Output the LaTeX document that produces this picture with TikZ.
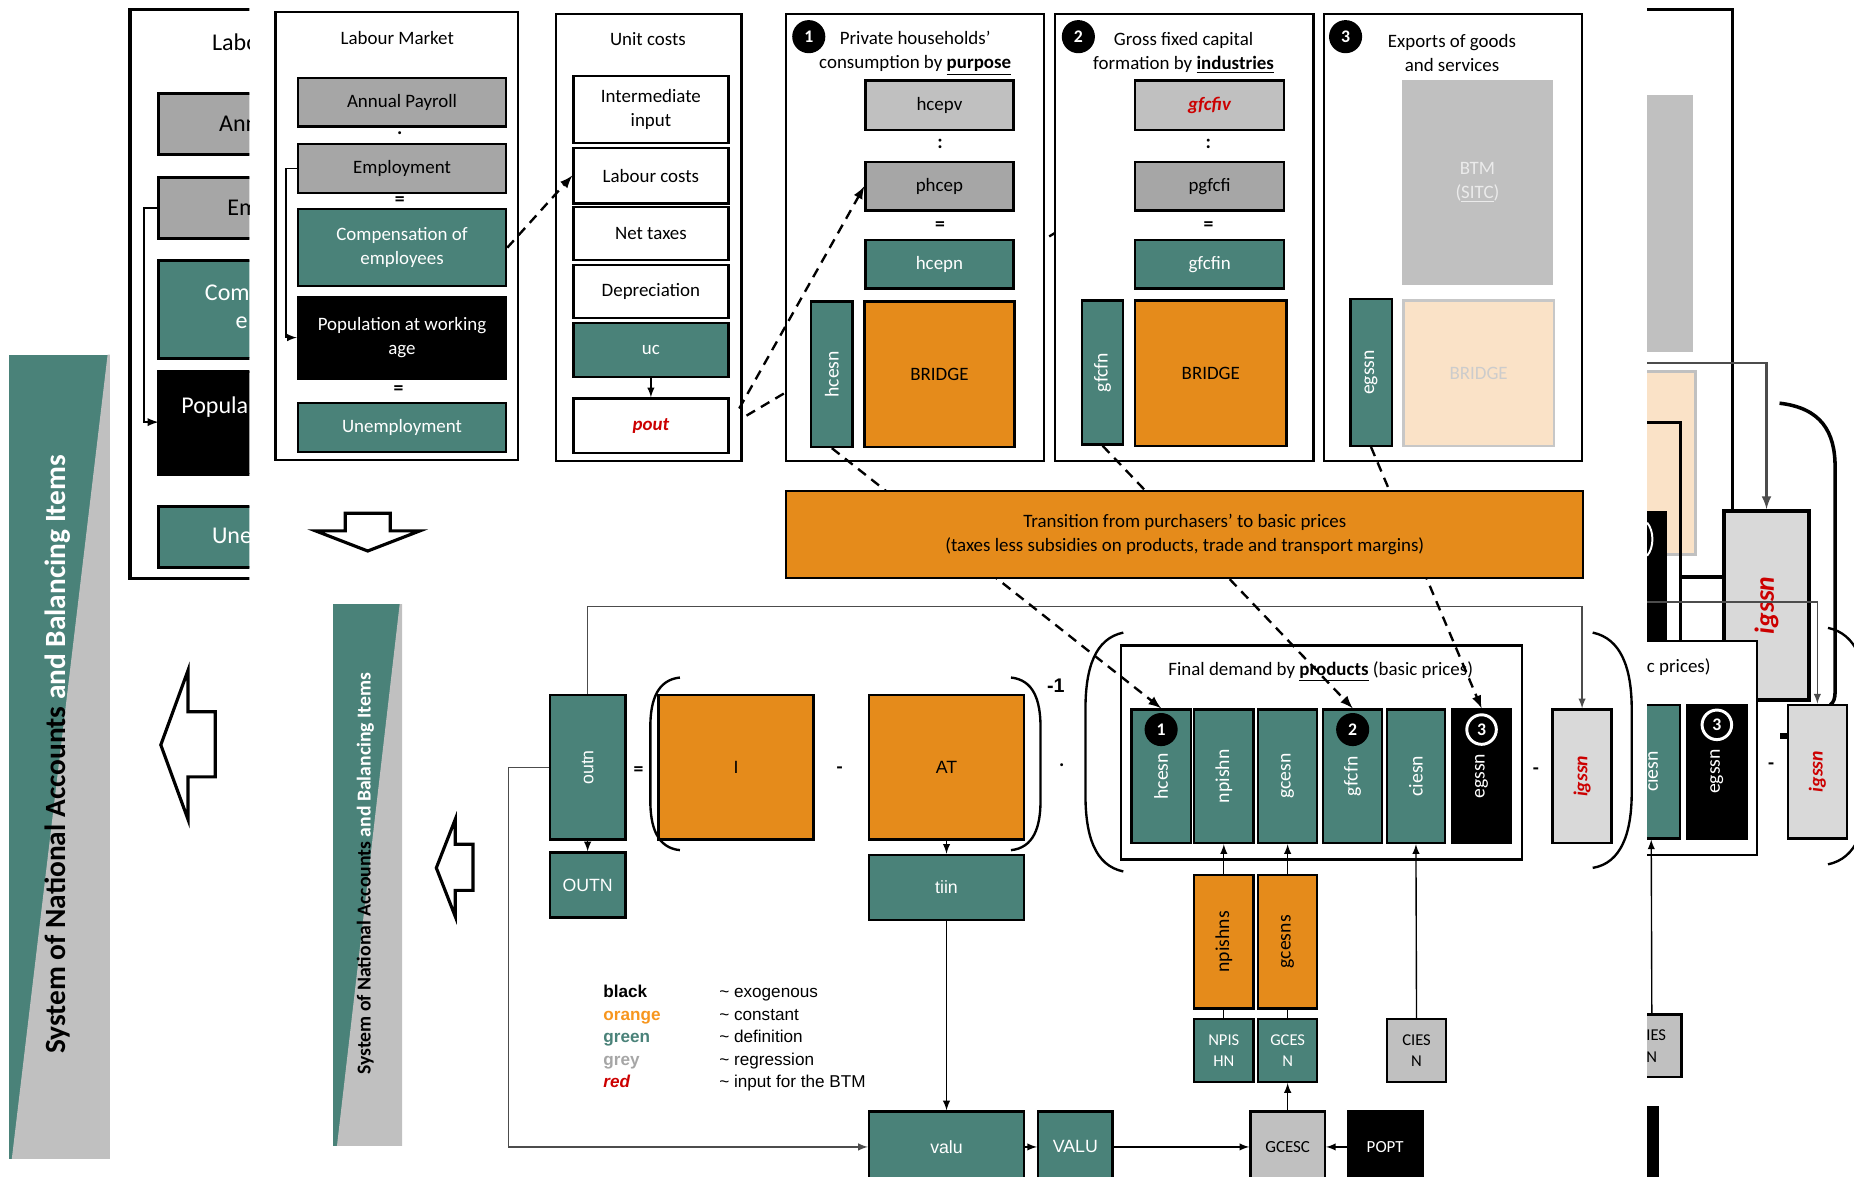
\documentclass[tikz,border=0pt]{standalone}
\usepackage{fontspec}
\setmainfont{Carlito}
\newfontfamily\arialfont{Liberation Sans}
\usepackage{graphicx}
\usepackage{tikz}
\usetikzlibrary{arrows,calc,backgrounds}

\definecolor{sgreen}{RGB}{74,130,121}
\definecolor{sorange}{RGB}{229,139,27}
\definecolor{sgrey}{RGB}{166,166,166}
\definecolor{slight}{RGB}{192,192,192}
\definecolor{spale}{RGB}{217,217,217}
\definecolor{speach}{RGB}{250,226,199}
\definecolor{sred}{RGB}{204,0,0}
\definecolor{lorange}{RGB}{247,150,30}

\newcommand{\bw}{1.2pt}

\begin{document}
\begin{tikzpicture}
	% Styles
	[
	x=0.6pt, y=-0.6pt, >=latex,
	panel/.style 2 args={draw, line width=\bw, fill=white, inner sep=0pt, minimum width={#1*0.6pt}, minimum height={#2*0.6pt}},
	box/.style 2 args={draw, line width=\bw, inner sep=0pt, align=center, minimum width={#1*0.6pt}, minimum height={#2*0.6pt}, font=\fontsize{9.6}{12}\selectfont},
	greybox/.style 2 args={box={#1}{#2}, fill=sgrey},
	lightbox/.style 2 args={box={#1}{#2}, fill=slight},
	greenbox/.style 2 args={box={#1}{#2}, fill=sgreen, text=white},
	blackbox/.style 2 args={box={#1}{#2}, fill=black, text=white},
	orangebox/.style 2 args={box={#1}{#2}, fill=sorange},
	whitebox/.style 2 args={box={#1}{#2}, fill=white},
	igbox/.style 2 args={box={#1}{#2}, fill=spale, text=sred, font=\fontsize{10}{12}\selectfont\bfseries\itshape},
	redtext/.style={text=sred, font=\fontsize{9.6}{12}\selectfont\bfseries\itshape},
	rot/.style={font=\fontsize{10}{12}\selectfont},
	arial/.style={font=\arialfont\fontsize{9}{11}\selectfont},
	txt/.style={inner sep=0pt, align=center, font=\fontsize{9.6}{12}\selectfont},
	bigtxt/.style={anchor=west, inner sep=0pt, font=\fontsize{12.2}{15}\selectfont},
	sign/.style={inner sep=0pt, font=\fontsize{10}{12}\selectfont\bfseries},
	numcirc/.style={circle, fill=black, text=white, inner sep=0pt, minimum size=16.8pt, font=\fontsize{9}{10}\selectfont\bfseries},
	conn/.style={->, line width=0.7pt},
	greyconn/.style={->, line width=0.7pt, draw=black!70},
	dasharrow/.style={->, line width=1.2pt, dash pattern=on 5pt off 3.5pt},
	bracket/.style={line width=1.2pt},
	blockarrow/.style={draw, fill=white, line width=1.6pt, line join=miter},
	banner/.style={rotate=90, inner sep=0pt, font=\bfseries},
	legend/.style={anchor=west, inner sep=0pt, text height=6.5pt, text depth=2pt, font=\arialfont\fontsize{8.7}{10}\selectfont},
	]

	\useasboundingbox (0,0) rectangle (1568,995);

	% Banners
	\fill[sgreen] (8,300) rectangle (93,980);
	\fill[slight] (91,300) -- (93,300) -- (93,980) -- (10,980) -- cycle;
	\node at (49,638) (bigsna) [banner, font=\fontsize{14.9}{17}\selectfont\bfseries] {System of National Accounts \textcolor{white}{and Balancing Items}};
	\fill[sgreen] (282,511) rectangle (340,969);
	\fill[slight] (338,511) -- (340,511) -- (340,969) -- (285,969) -- cycle;
	\node at (309,739) (smallsna) [banner, font=\fontsize{10}{12}\selectfont\bfseries] {System of National Accounts \textcolor{white}{and Balancing Items}};

	% Block arrows
	\draw[blockarrow] (136,630) -- (159,567) -- (159,602) -- (182,602) -- (182,657) -- (159,657) -- (159,693) -- cycle;
	\draw[blockarrow] (369,734) -- (385,693) -- (385,714) -- (400,714) -- (400,753) -- (385,753) -- (385,775) -- cycle;
	\draw[blockarrow] (292,434) -- (330,434) -- (330,449) -- (355,449) -- (311,466) -- (267,449) -- (292,449) -- cycle;

	% Earlier, enlarged labour market (cut off)
	\begin{scope}
		\clip (100,0) rectangle (211,495);
		\draw[line width=1.6pt] (110,8) rectangle (370,489);
		\node at (179,36) (oldtitle) [bigtxt] {Labo};
		\draw[line width=1.6pt, fill=sgrey] (134,79) rectangle (357,131);
		\node at (185,105) (oldpayroll) [bigtxt] {Ann};
		\draw[line width=1.6pt, fill=sgrey] (134,150) rectangle (357,202);
		\node at (192,176) (oldemploy) [bigtxt] {Em};
		\draw[line width=1.6pt, fill=sgreen] (134,220) rectangle (357,303);
		\node at (173,248) (oldcomp) [bigtxt, text=white] {Com};
		\node at (199,273) (oldcompb) [bigtxt, text=white] {e};
		\draw[line width=1.6pt, fill=black] (134,314) rectangle (357,401);
		\node at (153,344) (oldpopwa) [bigtxt, text=white] {Popula};
		\draw[line width=1.6pt, fill=sgreen] (134,428) rectangle (357,480);
		\node at (179,453) (oldunemp) [bigtxt, text=white] {Une};
		\coordinate (oldempw) at (134,176);
		\coordinate (oldpopw) at (134,357);
		\draw[conn, line width=0.9pt] (oldempw) -- ++(-12,0) |- (oldpopw);
	\end{scope}

	% Labour market
	\node at (335.5,199.5) (lmpanel) [panel={205}{379}] {};
	\node at (336,32) (lmtitle) [txt] {Labour Market};
	\node at (340,86.5) (payroll) [greybox={176}{41}] {Annual Payroll};
	\node at (338,113) (lmdot) [sign] {.};
	\node at (340,142.5) (employ) [greybox={176}{41}] {Employment};
	\node at (338,170) (lmeqa) [sign] {=};
	\node at (340,209.5) (comp) [greenbox={176}{65}] {Compensation of\\employees};
	\node at (340,285.5) (popwa) [blackbox={176}{69}] {Population at working\\age};
	\node at (337,330) (lmeqb) [sign] {=};
	\node at (340,361.5) (unemp) [greenbox={176}{41}] {Unemployment};
	\draw[conn] (employ.west) -- ++(-9,0) |- (popwa.west);

	% Unit costs
	\node at (548.5,201) (ucpanel) [panel={157}{378}] {};
	\node at (548,33) (uctitle) [txt] {Unit costs};
	\node at (550.5,92.5) (intin) [whitebox={131}{57}] {Intermediate\\input};
	\node at (550.5,148.5) (labc) [whitebox={131}{47}] {Labour costs};
	\node at (550.5,197.5) (ntax) [whitebox={131}{45}] {Net taxes};
	\node at (550.5,246.5) (depr) [whitebox={131}{45}] {Depreciation};
	\node at (550.5,296) (uc) [greenbox={131}{46}] {uc};
	\node at (550.5,360) (pout) [whitebox={131}{46}, redtext] {pout};

	% Private households
	\node at (774,201) (hhpanel) [panel={218}{378}] {};
	\node at (684,31) (hhnum) [numcirc] {1};
	\node at (774,45) (hhtitle) [txt] {Private households'\\consumption by \textbf{\underline{purpose}}};
	\node at (794.5,89) (hcepv) [lightbox={125}{42}] {hcepv};
	\node at (795,122) (hhcolon) [sign] {:};
	\node at (794.5,157.5) (phcep) [greybox={125}{41}] {phcep};
	\node at (795,191) (hheq) [sign] {=};
	\node at (794.5,223.5) (hcepn) [greenbox={125}{41}] {hcepn};
	\node at (703.5,316.5) (hcesnv) [greenbox={35}{123}, rot] {\rotatebox{90}{hcesn}};
	\node at (794.5,316.5) (bridgea) [orangebox={127}{123}] {BRIDGE};

	% Gross fixed capital formation
	\node at (1001.5,201) (gfpanel) [panel={219}{378}] {};
	\node at (912,31) (gfnum) [numcirc] {2};
	\node at (1001,45) (gftitle) [txt] {Gross fixed capital\\formation by \textbf{\underline{industries}}};
	\node at (1023,89) (gfcfiv) [lightbox={126}{42}, redtext] {gfcfiv};
	\node at (1022,122) (gfcolon) [sign] {:};
	\node at (1023,157.5) (pgfcfi) [greybox={126}{41}] {pgfcfi};
	\node at (1022,191) (gfeq) [sign] {=};
	\node at (1023,223.5) (gfcfin) [greenbox={126}{41}] {gfcfin};
	\node at (932.5,315) (gfcfnv) [greenbox={35}{122}, rot] {\rotatebox{90}{gfcfn}};
	\node at (1024,315.5) (bridgeb) [orangebox={128}{123}] {BRIDGE};

	% Exports
	\node at (1229,201) (expanel) [panel={218}{378}] {};
	\node at (1138,31) (exnum) [numcirc] {3};
	\node at (1228,45) (extitle) [txt] {Exports of goods\\and services};
	\node at (1249.5,154.5) (btm) [box={127}{173}, draw=none, fill=slight, text=white!92!black] {BTM\\(\underline{SITC})};
	\node at (1159.5,315) (egssnv) [greenbox={35}{124}, rot] {\rotatebox{90}{egssn}};
	\node at (1250.5,315.5) (bridgec) [box={127}{123}, fill=speach, draw=black!22, text=black!20] {BRIDGE};

	% pout to pgfcfi runs behind the households panel
	\begin{pgfonlayer}{background}
		\draw[dasharrow, shorten <=10pt] (pout.east) -- (pgfcfi.west);
	\end{pgfonlayer}
	\draw[dasharrow] (comp.east) -- (labc.west);
	\draw[dasharrow, shorten <=10pt] (pout.east) -- (phcep.west);

	% Input-output block
	\node at (497,649) (outn) [greenbox={64}{122}, arial] {\rotatebox{90}{outn}};
	\node at (497,748.5) (OUTN) [greenbox={64}{55}, arial] {OUTN};
	\node at (540,652) (ioeq) [sign] {=};
	\node at (622.5,649) (imat) [orangebox={131}{122}, arial] {I};
	\node at (710,651) (iominus) [sign] {-};
	\node at (800.5,649) (AT) [orangebox={131}{122}, arial] {AT};
	\node at (893,580) (ioinv) [sign, font=\arialfont\fontsize{10}{12}\selectfont\bfseries] {-1};
	\node at (898,647) (iodot) [sign] {.};
	\node at (800.5,750.5) (tiin) [greenbox={131}{55}, arial] {tiin};
	\draw[bracket] (575,573) .. controls (556,575) and (550,592) .. (550,615) -- (550,677) .. controls (550,700) and (556,717) .. (575,719);
	\draw[bracket] (855,573) .. controls (874,575) and (880,592) .. (880,615) -- (880,677) .. controls (880,700) and (874,717) .. (855,719);

	% Final demand
	\node at (1117.5,636.5) (fdbox) [panel={339}{181}] {};
	\node at (1117,568) (fdtitle) [txt] {Final demand by \textbf{\underline{products}} (basic prices)};
	\node at (982,656.5) (hcesn) [greenbox={50}{113}, rot] {\rotatebox{90}{hcesn}};
	\node at (1035,656.5) (npishn) [greenbox={50}{113}, rot] {\rotatebox{90}{npishn}};
	\node at (1089,656.5) (gcesn) [greenbox={50}{113}, rot] {\rotatebox{90}{gcesn}};
	\node at (1144,656.5) (gfcfn) [greenbox={50}{113}, rot] {\rotatebox{90}{gfcfn}};
	\node at (1197.5,656.5) (ciesn) [greenbox={49}{113}, rot] {\rotatebox{90}{ciesn}};
	\node at (1253,656.5) (egssn) [blackbox={50}{113}, rot] {\rotatebox{90}{egssn}};
	\node at (982,617) (fdnuma) [numcirc] {1};
	\node at (1144,617) (fdnumb) [numcirc] {2};
	\node at (1253,617) (fdnumc) [numcirc, draw=white, line width=1.5pt, minimum size=15pt] {3};
	\node at (1299,652) (fdminus) [sign] {-};
	\node at (1338,656.5) (igssn) [igbox={50}{113}] {\rotatebox{90}{igssn}};
	\draw[bracket] (950,535) .. controls (926,540) and (918,565) .. (918,600) -- (918,672) .. controls (918,707) and (926,732) .. (950,737);
	\draw[bracket] (1347,535) .. controls (1371,540) and (1380,565) .. (1380,600) -- (1380,670) .. controls (1380,705) and (1371,730) .. (1347,734);

	% Final demand components
	\node at (1035,796.5) (npishns) [orangebox={50}{113}, rot] {\rotatebox{90}{npishns}};
	\node at (1089,796.5) (gcesns) [orangebox={50}{113}, rot] {\rotatebox{90}{gcesns}};
	\node at (1035,888.5) (NPISHN) [greenbox={50}{53}, font=\fontsize{8.4}{11}\selectfont] {NPIS\\HN};
	\node at (1089,888.5) (GCESN) [greenbox={50}{53}, font=\fontsize{8.4}{11}\selectfont] {GCES\\N};
	\node at (1198,888.5) (CIESN) [lightbox={50}{53}, font=\fontsize{8.4}{11}\selectfont] {CIES\\N};

	% Value added row
	\node at (800.5,970) (valu) [greenbox={131}{60}, arial] {valu};
	\node at (909.5,970) (VALU) [greenbox={63}{60}, arial] {VALU};
	\node at (1089,970) (GCESC) [lightbox={63}{60}, font=\fontsize{8.6}{11}\selectfont] {GCESC};
	\node at (1171.5,970) (POPT) [blackbox={63}{60}, font=\fontsize{8.6}{11}\selectfont] {POPT};

	% Legend
	\node at (510,840) (lgblack) [legend] {\textbf{black}};
	\node at (510,859) (lgorange) [legend, text=lorange] {\textbf{orange}};
	\node at (510,878) (lggreen) [legend, text=sgreen] {\textbf{green}};
	\node at (510,897) (lggrey) [legend, text=sgrey] {\textbf{grey}};
	\node at (510,916) (lgred) [legend, text=sred] {\textbf{\itshape red}};
	\node at (608,840) (lgexo) [legend] {\textasciitilde\ exogenous};
	\node at (608,859) (lgcon) [legend] {\textasciitilde\ constant};
	\node at (608,878) (lgdef) [legend] {\textasciitilde\ definition};
	\node at (608,897) (lgreg) [legend] {\textasciitilde\ regression};
	\node at (608,916) (lginp) [legend] {\textasciitilde\ input for the BTM};

	% Arrows
	\coordinate (outtop) at (497,513);
	\coordinate (outleft) at (430,649);
	\draw[greyconn] (outn.north) -- (outtop) -| (igssn.north);
	\draw[greyconn] (outn.west) -- (outleft) |- (valu.west);
	\draw[conn] (uc.south) -- (pout.north);
	\draw[conn] (outn.south) -- (OUTN.north);
	\draw[conn] (AT.south) -- (tiin.north);
	\draw[conn] (tiin.south) -- (valu.north);
	\draw[conn] (valu.east) -- (VALU.west);
	\draw[conn] (VALU.east) -- (GCESC.west);
	\draw[conn] (POPT.west) -- (GCESC.east);
	\draw[conn] (GCESC.north) -- (GCESN.south);
	\draw[conn] (npishns.north) -- (npishn.south);
	\draw[conn] (gcesns.north) -- (gcesn.south);
	\draw[line width=0.7pt] (NPISHN.north) -- (npishns.south);
	\draw[line width=0.7pt] (GCESN.north) -- (gcesns.south);
	\draw[conn] (CIESN.north) -- (ciesn.south);

	% Dashed links through the price transition
	\draw[dasharrow] (hcesnv.south) -- (hcesn.north);
	\draw[dasharrow] (gfcfnv.south) -- (gfcfn.north);
	\draw[dasharrow] (egssnv.south) -- (egssn.north);
	\node at (1002,452) (trans) [orangebox={674}{74}, font=\fontsize{9.6}{12.5}\selectfont] {Transition from purchasers' to basic prices\\(taxes less subsidies on products, trade and transport margins)};

	% Later view (cut off at the right)
	\begin{scope}
		\clip (1393,0) rectangle (1568,995);
		\draw[line width=1.6pt] (1380,8) -- (1465,8) -- (1465,432);
		\fill[slight] (1380,80) rectangle (1432,298);
		\draw[line width=1.6pt, draw=slight, fill=speach] (1380,314) rectangle (1434,469);
		\draw[line width=1.6pt] (1380,357) -- (1421,357) -- (1421,543);
		\draw[line width=1.6pt] (1421,488) -- (1458,488);
		\fill (1380,432) rectangle (1410,543);
		\draw[white, line width=1pt] (1393,442) .. controls (1399,449) and (1399,463) .. (1393,470);
		\node at (1494,512) (bigigssn) [igbox={72}{160}, line width=1.8pt, font=\fontsize{14}{16}\selectfont\bfseries\itshape] {\rotatebox{90}{igssn}};
		\coordinate (bigout) at (1380,307);
		\draw[greyconn, line width=1.2pt] (bigout) -| (bigigssn.north);
		\draw[line width=1.8pt] (1505,341) .. controls (1540,345) and (1552,365) .. (1552,395) -- (1552,585) .. controls (1552,590) and (1551,594) .. (1548,596);
		\node at (1316.5,632.5) (fdlater) [panel={339}{181}] {};
		\node at (1447,564) (fdlatertitle) [txt, anchor=east] {c prices)};
		\node at (1396.5,652.5) (ciesnlater) [greenbox={49}{113}, rot] {\rotatebox{90}{ciesn}};
		\node at (1452,652.5) (egssnlater) [blackbox={50}{113}, rot] {\rotatebox{90}{egssn}};
		\node at (1452,613) (numlater) [numcirc, draw=white, line width=1.5pt, minimum size=15pt] {3};
		\node at (1498,648) (minuslater) [sign] {-};
		\fill (1505,620) rectangle (1511,625);
		\node at (1537,652.5) (igssnlater) [igbox={50}{113}] {\rotatebox{90}{igssn}};
		\coordinate (outlater) at (1380,509);
		\draw[greyconn] (outlater) -| (igssnlater.north);
		\draw[bracket] (1546,531) .. controls (1570,536) and (1579,561) .. (1579,596) -- (1579,666) .. controls (1579,701) and (1570,726) .. (1546,731);
		\node at (1397,884.5) (ciesnsrc) [lightbox={50}{53}, font=\fontsize{8.4}{11}\selectfont] {CIES\\N};
		\draw[conn] (ciesnsrc.north) -- (ciesnlater.south);
		\node at (1370.5,966) (poptlater) [blackbox={63}{60}, font=\fontsize{8.6}{11}\selectfont] {POPT};
	\end{scope}
\end{tikzpicture}
\end{document}
